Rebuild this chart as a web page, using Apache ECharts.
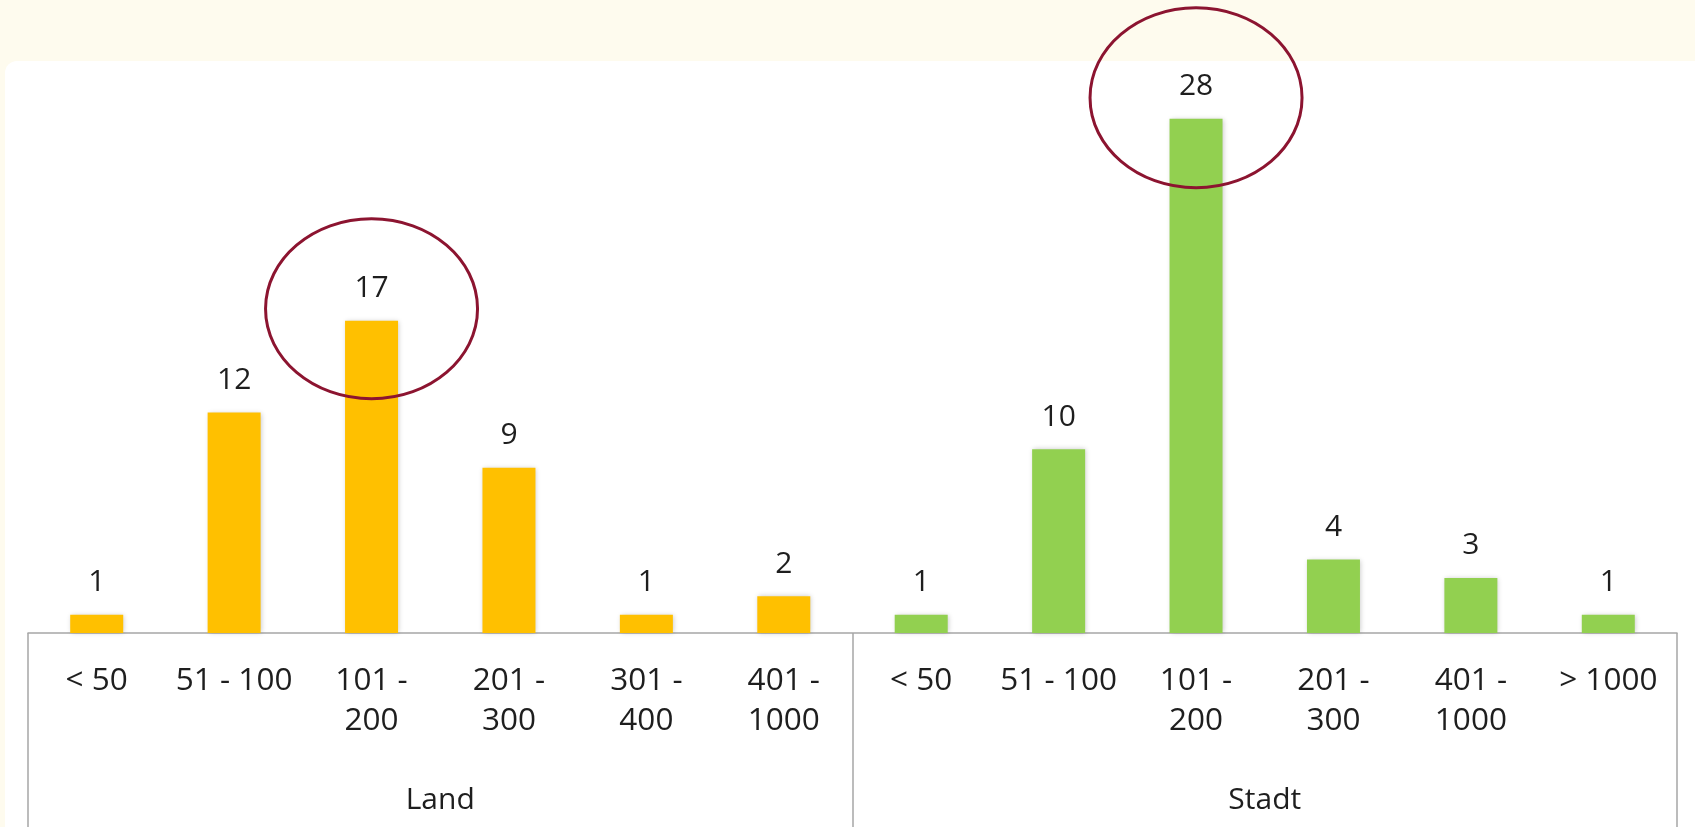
<!DOCTYPE html>
<html>
<head>
<meta charset="utf-8">
<script src="https://cdn.jsdelivr.net/npm/echarts@6/dist/echarts.min.js"></script>
<style>
  html, body { margin: 0; padding: 0; width: 1695px; height: 827px; overflow: hidden; background: #fefbee; }
  #panel { position: absolute; left: 5px; top: 61px; width: 1690px; height: 766px; background: #ffffff; border-top-left-radius: 12px; }
  #chart { position: absolute; left: 0; top: 0; width: 1695px; height: 827px; }
</style>
</head>
<body>
<div id="panel"></div>
<div id="chart"></div>
<script>
// ---- data ----
const categories = ['< 50', '51 - 100', '101 -\n200', '201 -\n300', '301 -\n400', '401 -\n1000',
                    '< 50', '51 - 100', '101 -\n200', '201 -\n300', '401 -\n1000', '> 1000'];
const groups = ['Land', 'Stadt'];
const landValues = [1, 12, 17, 9, 1, 2];
const stadtValues = [1, 10, 28, 4, 3, 1];
const highlighted = [[2, 17], [8, 28]]; // [category index, value]

// ---- build ----
const pad = n => Array(n).fill('-');
const landData = landValues.concat(pad(stadtValues.length));
const stadtData = pad(landValues.length).concat(stadtValues);

const FONT = '"Open Sans", "Noto Sans", sans-serif';
const TEXT = '#1e1e1e';
const chart = echarts.init(document.getElementById('chart'), null, { renderer: 'canvas' });

const labelStyle = {
  show: true, position: 'top', distance: 17,
  fontSize: 30, fontFamily: FONT, color: TEXT
};
const barShadow = { shadowBlur: 5, shadowColor: 'rgba(0,0,0,0.22)', shadowOffsetX: 1, shadowOffsetY: 0 };

const ellipseOffsets = [-12, -21];

chart.setOption({
  backgroundColor: 'transparent',
  animation: false,
  grid: { left: 28, right: 18, top: 82, bottom: 194, containLabel: false },
  xAxis: [
    {
      type: 'category', data: categories, position: 'bottom',
      axisLine: { show: true, onZero: false, lineStyle: { color: '#a6a6a6', width: 1.5 } },
      axisTick: { show: false },
      axisLabel: { interval: 0, margin: 28, fontSize: 31.5, lineHeight: 40, fontFamily: FONT, color: TEXT }
    },
    {
      type: 'category', data: groups, position: 'bottom', offset: 0,
      axisLine: { show: false, onZero: false },
      axisTick: { show: true, interval: 0, length: 210, lineStyle: { color: '#a6a6a6', width: 1.5 } },
      axisLabel: { interval: 0, margin: 152, fontSize: 30, lineHeight: 30, fontFamily: FONT, color: TEXT }
    }
  ],
  yAxis: { type: 'value', min: 0, max: 30, show: false, splitLine: { show: false } },
  series: [
    {
      name: 'Land', type: 'bar', data: landData, barWidth: 53, barGap: '-100%',
      itemStyle: Object.assign({ color: '#ffc000' }, barShadow),
      label: labelStyle
    },
    {
      name: 'Stadt', type: 'bar', data: stadtData, barWidth: 53, barGap: '-100%',
      itemStyle: Object.assign({ color: '#92d050' }, barShadow),
      label: labelStyle
    },
    {
      type: 'custom', clip: false, z: 10,
      data: highlighted,
      renderItem: function (params, api) {
        const p = api.coord([api.value(0), api.value(1)]);
        return {
          type: 'ellipse',
          shape: { cx: p[0], cy: p[1] + ellipseOffsets[params.dataIndex], rx: 106, ry: 90 },
          style: { fill: 'none', stroke: '#8c1430', lineWidth: 3 }
        };
      }
    }
  ]
});
</script>
</body>
</html>
